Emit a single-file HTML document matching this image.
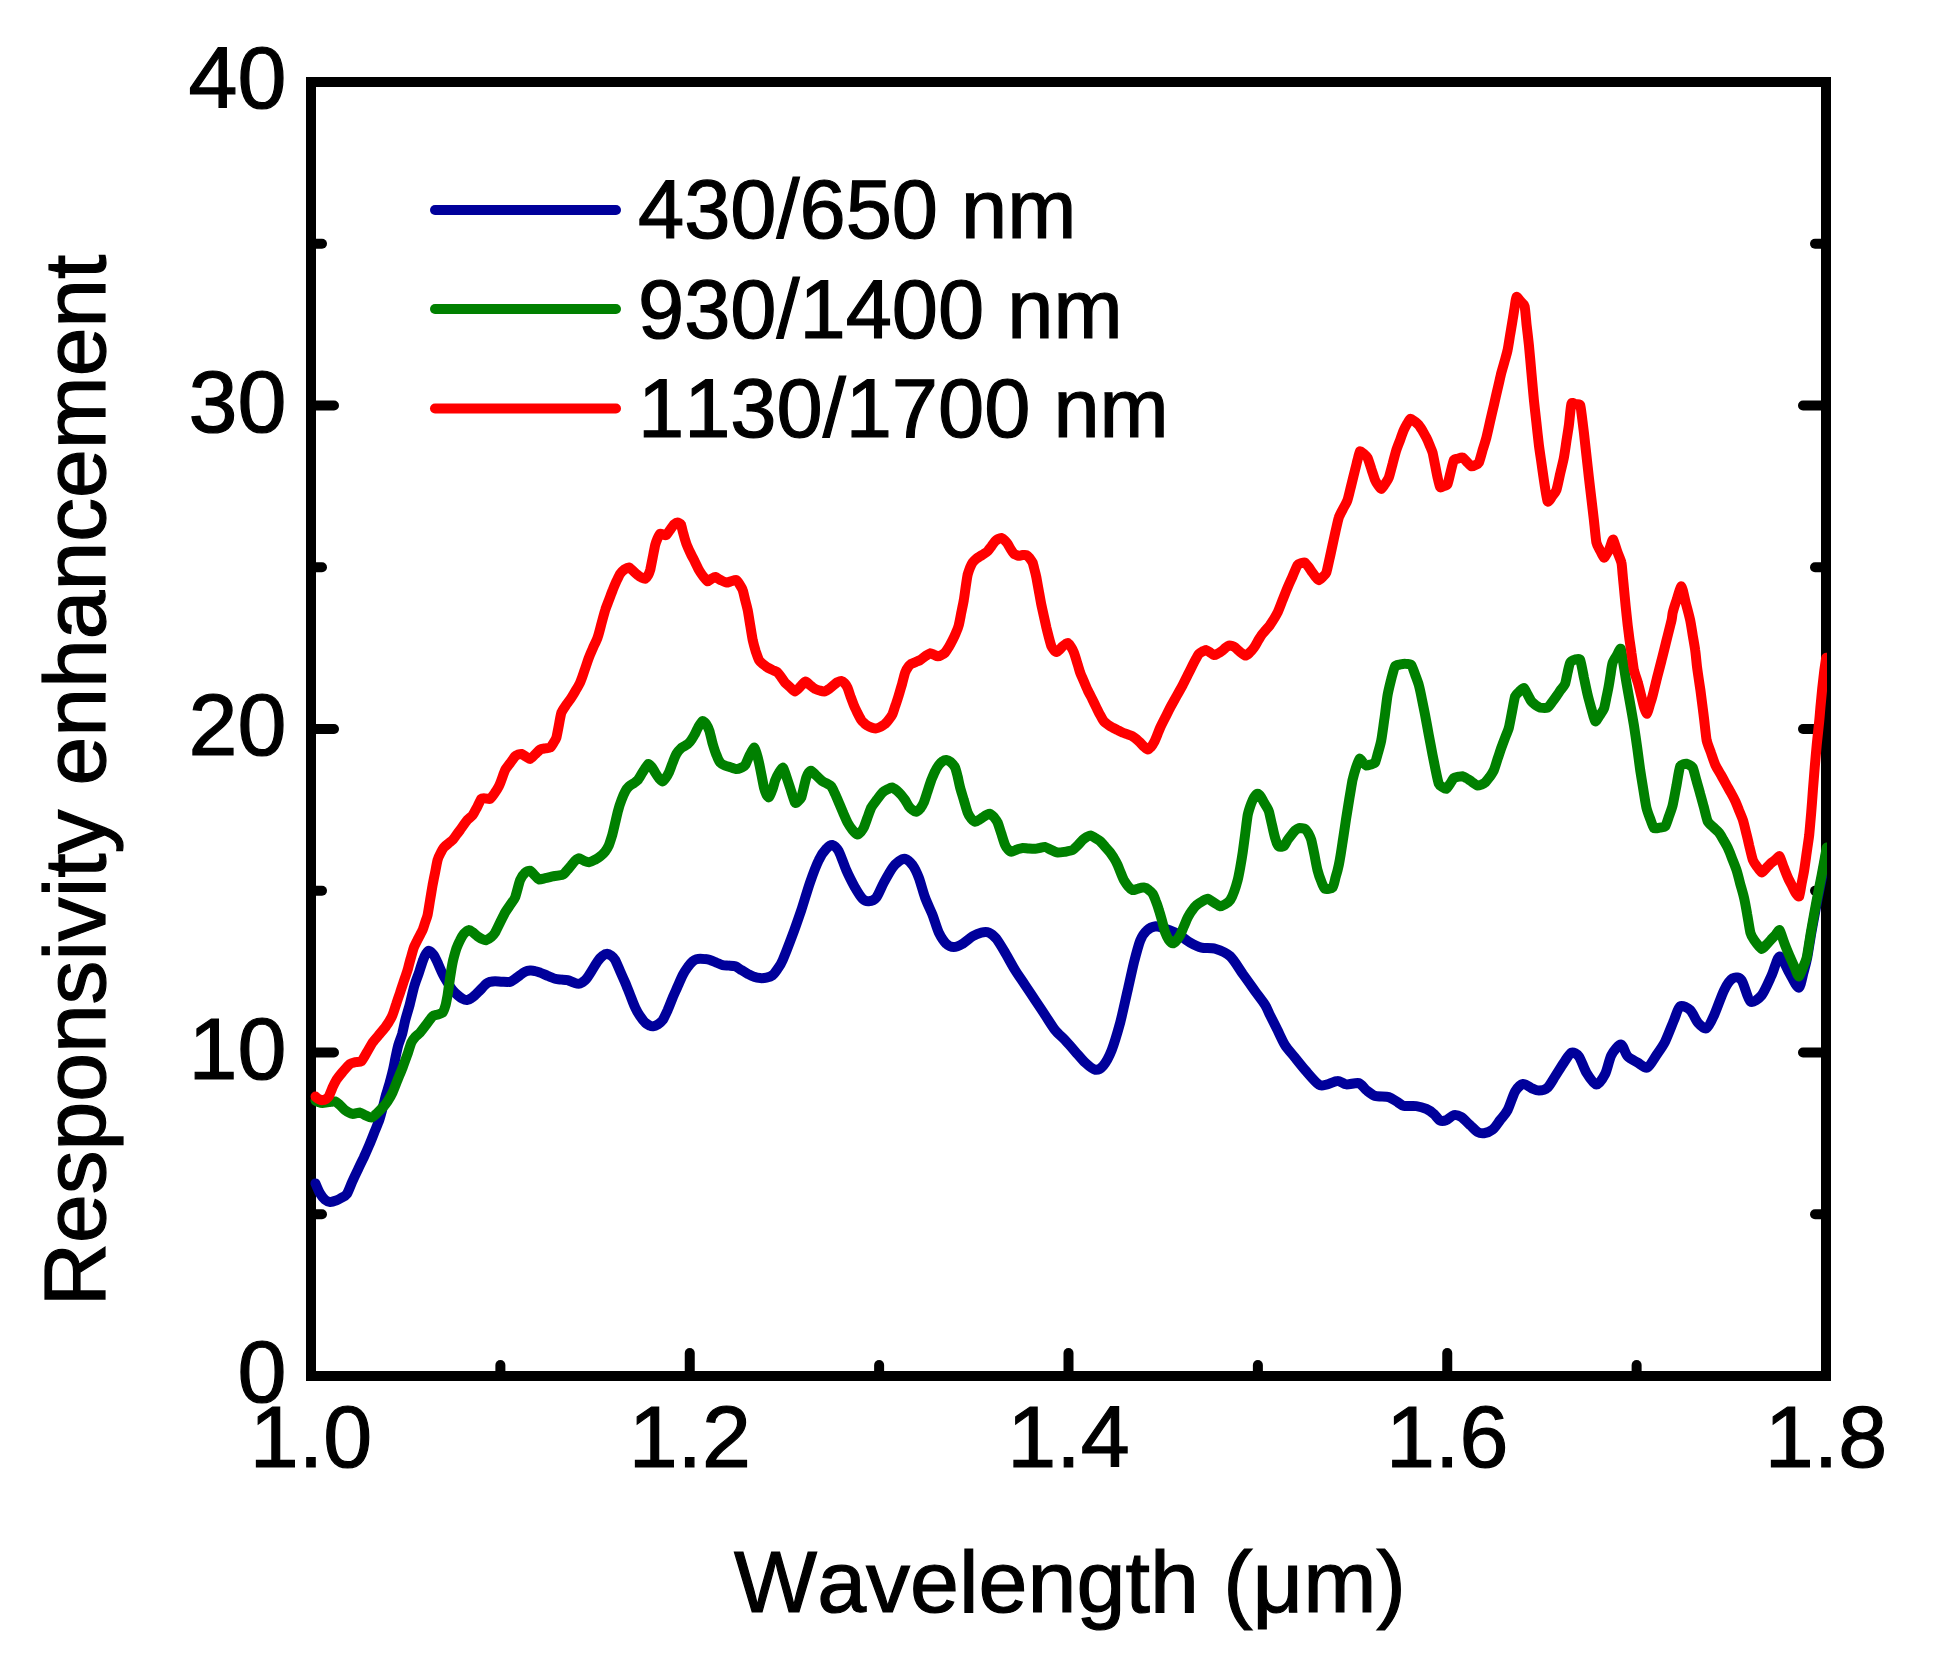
<!DOCTYPE html>
<html><head><meta charset="utf-8"><title>Responsivity enhancement</title>
<style>html,body{margin:0;padding:0;background:#fff}svg{display:block}text{font-kerning:none;stroke:#000;stroke-width:1.2px;font-family:"Liberation Sans",sans-serif;fill:#000}</style></head><body>
<svg width="1939" height="1666" viewBox="0 0 1939 1666">
<rect width="1939" height="1666" fill="#fff"/>
<defs><clipPath id="c"><rect x="310" y="77" width="1517" height="1304"/></clipPath></defs>
<g stroke="#000" stroke-width="10" stroke-linecap="round" fill="none">
<path d="M316,1214.25 H322"/>
<path d="M1821,1214.25 H1815"/>
<path d="M316,1052.50 H334"/>
<path d="M1821,1052.50 H1803"/>
<path d="M316,890.75 H322"/>
<path d="M1821,890.75 H1815"/>
<path d="M316,729.00 H334"/>
<path d="M1821,729.00 H1803"/>
<path d="M316,567.25 H322"/>
<path d="M1821,567.25 H1815"/>
<path d="M316,405.50 H334"/>
<path d="M1821,405.50 H1803"/>
<path d="M316,243.75 H322"/>
<path d="M1821,243.75 H1815"/>
<path d="M500.38,1371 V1365"/>
<path d="M689.75,1371 V1353"/>
<path d="M879.12,1371 V1365"/>
<path d="M1068.50,1371 V1353"/>
<path d="M1257.88,1371 V1365"/>
<path d="M1447.25,1371 V1353"/>
<path d="M1636.62,1371 V1365"/>
</g>
<rect x="311" y="82" width="1515" height="1294" fill="none" stroke="#000" stroke-width="10" stroke-linejoin="miter"/>
<g clip-path="url(#c)" fill="none" stroke-width="10" stroke-linejoin="round" stroke-linecap="round">
<path stroke="#00009b" d="M315.5,1183.4C316.1,1184.8 318.7,1191.3 320.0,1193.4C321.3,1195.6 323.7,1198.6 325.0,1199.7C326.3,1200.8 328.5,1201.8 330.0,1201.9C331.5,1202.0 334.8,1201.0 336.3,1200.4C337.8,1199.9 339.9,1198.8 341.3,1197.9C342.7,1197.1 345.3,1196.3 346.8,1194.2C348.2,1192.1 350.6,1185.4 352.0,1182.2C353.5,1178.9 356.2,1173.2 357.8,1169.9C359.3,1166.6 362.2,1160.7 363.8,1157.4C365.3,1154.1 367.9,1148.2 369.3,1144.9C370.7,1141.6 373.0,1135.7 374.3,1132.4C375.6,1129.1 378.2,1123.2 379.3,1119.9C380.4,1116.6 381.9,1110.7 382.8,1107.4C383.7,1104.1 385.1,1098.2 386.0,1094.9C387.0,1091.5 388.9,1085.7 389.8,1082.4C390.7,1079.0 392.3,1073.2 393.0,1069.9C393.8,1066.6 394.8,1060.9 395.5,1057.6C396.2,1054.3 397.4,1048.2 398.3,1045.1C399.2,1042.0 401.1,1037.4 402.1,1034.1C403.0,1030.8 404.3,1024.0 405.3,1020.1C406.3,1016.2 408.3,1009.8 409.6,1005.1C410.8,1000.4 413.3,989.3 414.6,985.1C415.8,980.8 417.7,976.4 418.8,973.1C419.9,969.7 422.1,962.7 423.1,960.1C424.0,957.5 425.3,954.8 426.1,953.6C426.9,952.3 428.0,950.6 429.1,950.8C430.1,951.0 432.7,953.5 433.8,955.1C435.0,956.6 436.4,960.1 437.6,962.6C438.7,965.1 441.2,971.2 442.6,973.8C443.9,976.5 446.2,980.4 447.6,982.6C448.9,984.7 451.2,988.4 452.6,990.1C453.9,991.7 456.2,993.9 457.6,995.1C458.9,996.2 461.3,998.2 462.6,998.8C463.8,999.5 465.9,1000.2 467.1,1000.1C468.3,1000.0 470.3,998.8 471.3,998.1C472.4,997.4 473.9,996.1 475.1,995.1C476.3,994.0 478.6,991.6 480.1,990.1C481.6,988.6 485.0,984.9 486.3,983.8C487.7,982.7 488.9,982.2 490.1,981.8C491.3,981.5 493.4,981.3 495.1,981.3C496.8,981.3 500.6,981.8 502.6,981.8C504.6,981.9 508.4,982.2 510.1,981.8C511.8,981.4 513.8,979.7 515.1,978.8C516.4,977.9 518.8,976.0 520.1,975.1C521.4,974.1 523.8,972.4 525.1,971.8C526.4,971.2 528.8,970.7 530.1,970.6C531.4,970.5 533.8,970.8 535.1,971.1C536.5,971.3 538.5,971.9 540.1,972.6C541.8,973.2 545.6,975.0 547.6,975.8C549.6,976.7 553.3,978.3 555.1,978.8C557.0,979.3 559.7,979.4 561.4,979.6C563.0,979.7 566.0,979.7 567.6,980.1C569.3,980.5 572.4,982.1 573.9,982.6C575.4,983.1 577.7,983.9 578.9,983.8C580.1,983.8 581.6,982.7 582.6,982.1C583.6,981.4 585.2,980.3 586.4,978.8C587.6,977.4 589.9,973.7 591.4,971.3C592.9,969.0 596.1,963.4 597.6,961.3C599.1,959.2 601.4,956.8 602.7,955.8C603.9,954.8 606.0,953.8 607.2,953.8C608.3,953.8 610.3,955.0 611.4,955.8C612.5,956.6 614.0,958.0 615.2,960.1C616.3,962.1 618.8,968.3 620.2,971.3C621.5,974.3 623.8,979.4 625.2,982.6C626.5,985.7 628.8,991.7 630.2,995.1C631.5,998.4 633.8,1004.8 635.2,1007.6C636.5,1010.4 638.8,1014.3 640.2,1016.3C641.5,1018.3 643.9,1021.4 645.2,1022.6C646.4,1023.8 648.6,1025.1 649.7,1025.6C650.7,1026.1 652.1,1026.5 653.2,1026.3C654.2,1026.2 656.4,1025.4 657.7,1024.6C658.9,1023.8 661.3,1022.0 662.7,1020.1C664.0,1018.2 666.3,1013.1 667.7,1010.1C669.0,1007.1 671.4,1000.8 672.7,997.6C674.0,994.4 676.4,989.3 677.7,986.3C679.0,983.3 681.4,977.6 682.7,975.1C684.0,972.5 686.4,968.9 687.7,967.1C689.0,965.2 691.5,962.3 692.7,961.3C693.9,960.3 695.4,959.6 696.4,959.3C697.4,959.0 699.0,958.8 700.2,958.8C701.4,958.8 703.9,958.9 705.2,959.1C706.5,959.2 708.7,959.6 710.2,960.1C711.7,960.5 714.8,961.9 716.5,962.6C718.1,963.2 721.0,964.7 722.7,965.1C724.4,965.5 727.3,965.4 729.0,965.6C730.6,965.7 733.6,965.7 735.2,966.3C736.9,966.9 739.8,969.1 741.5,970.1C743.1,971.1 746.1,972.9 747.7,973.8C749.4,974.7 752.3,976.3 754.0,976.8C755.6,977.4 758.6,978.0 760.2,978.1C761.9,978.2 764.8,978.0 766.5,977.6C768.2,977.2 771.2,976.2 772.7,975.1C774.2,973.9 776.4,970.8 777.7,968.8C779.1,966.8 780.8,964.6 782.7,960.1C784.7,955.6 790.0,941.8 792.5,935.1C795.0,928.4 798.9,917.1 801.3,910.1C803.6,903.1 807.7,889.2 810.0,882.6C812.3,875.9 816.6,864.6 818.8,860.1C820.9,855.5 824.4,850.8 826.3,848.8C828.1,846.8 830.9,844.7 832.5,845.0C834.2,845.4 836.9,848.0 838.8,851.3C840.6,854.6 844.1,865.2 846.3,870.1C848.4,874.9 852.9,883.7 855.0,887.6C857.2,891.4 860.7,897.0 862.5,898.8C864.4,900.7 867.0,901.5 868.8,901.3C870.6,901.2 874.3,900.1 876.3,897.6C878.3,895.1 881.6,886.6 883.8,882.6C886.0,878.6 890.6,870.4 892.6,867.6C894.6,864.7 897.1,862.5 898.8,861.3C900.5,860.1 903.2,858.3 905.1,858.8C906.9,859.3 910.7,862.6 912.6,865.1C914.4,867.6 917.1,873.2 918.8,877.6C920.5,881.9 923.2,892.6 925.1,897.6C926.9,902.6 930.7,910.4 932.6,915.1C934.4,919.7 937.0,928.8 938.8,932.6C940.7,936.4 944.3,941.9 946.3,943.8C948.3,945.8 951.7,947.1 953.8,947.1C956.0,947.1 960.1,945.3 962.6,943.8C965.1,942.4 970.1,937.8 972.6,936.3C975.1,934.8 979.2,933.1 981.3,932.6C983.5,932.1 986.9,931.8 988.9,932.6C990.9,933.4 994.2,936.2 996.4,938.8C998.5,941.5 1002.6,948.4 1005.1,952.6C1007.6,956.8 1012.4,965.8 1015.1,970.1C1017.8,974.4 1022.5,981.1 1025.1,985.1C1027.8,989.1 1032.5,996.1 1035.1,1000.1C1037.8,1004.1 1042.5,1011.1 1045.1,1015.1C1047.8,1019.1 1052.5,1026.8 1055.1,1030.1C1057.8,1033.5 1062.5,1037.3 1065.1,1040.1C1067.8,1043.0 1072.5,1048.4 1075.1,1051.4C1077.8,1054.4 1082.5,1060.2 1085.2,1062.7C1087.8,1065.1 1092.8,1069.3 1095.2,1069.7C1097.6,1070.1 1101.0,1068.3 1103.2,1065.7C1105.4,1063.1 1109.4,1055.9 1111.7,1050.1C1113.9,1044.4 1118.0,1030.6 1120.2,1022.6C1122.3,1014.6 1125.8,998.1 1127.7,990.1C1129.5,982.1 1132.3,969.2 1133.9,962.6C1135.6,956.0 1138.5,944.9 1140.2,940.6C1141.9,936.3 1144.6,932.5 1146.7,930.6C1148.7,928.7 1153.2,926.6 1155.7,926.3C1158.2,926.1 1162.3,927.8 1165.2,928.8C1168.1,929.8 1174.4,932.0 1177.7,933.8C1181.0,935.7 1187.0,940.8 1190.2,942.6C1193.4,944.4 1198.1,946.8 1201.5,947.6C1204.8,948.4 1211.4,947.7 1215.2,948.8C1219.1,950.0 1226.6,953.0 1230.2,956.3C1233.9,959.7 1239.4,969.2 1242.7,973.9C1246.1,978.5 1252.2,987.2 1255.2,991.4C1258.2,995.5 1263.3,1002.0 1265.2,1005.1C1267.2,1008.3 1268.4,1011.8 1270.0,1015.1C1271.6,1018.4 1275.5,1026.1 1277.5,1030.1C1279.5,1034.1 1282.7,1041.4 1285.0,1045.1C1287.3,1048.8 1292.2,1054.1 1295.0,1057.6C1297.8,1061.1 1303.1,1067.8 1306.3,1071.4C1309.4,1075.0 1316.1,1082.9 1318.8,1084.6C1321.4,1086.4 1323.8,1085.1 1326.3,1084.6C1328.8,1084.1 1334.9,1080.9 1337.5,1080.9C1340.2,1080.8 1343.5,1084.1 1346.3,1084.4C1349.1,1084.7 1356.1,1082.4 1358.8,1083.1C1361.5,1083.9 1364.1,1088.4 1366.3,1090.1C1368.5,1091.8 1372.1,1094.9 1375.1,1095.9C1378.1,1096.8 1385.8,1096.3 1388.8,1097.1C1391.8,1098.0 1395.6,1101.0 1397.6,1102.1C1399.6,1103.3 1401.3,1105.4 1403.8,1105.9C1406.3,1106.4 1413.3,1105.7 1416.3,1106.1C1419.3,1106.5 1424.0,1107.9 1426.3,1108.9C1428.7,1109.9 1432.0,1112.3 1433.8,1113.9C1435.7,1115.5 1438.4,1119.8 1440.1,1120.6C1441.8,1121.5 1444.5,1120.9 1446.3,1120.1C1448.2,1119.4 1451.8,1115.5 1453.8,1115.1C1455.8,1114.7 1459.2,1115.8 1461.3,1117.1C1463.5,1118.5 1467.9,1123.2 1470.1,1125.1C1472.3,1127.1 1475.8,1130.8 1477.6,1131.9C1479.4,1133.0 1481.9,1133.5 1483.9,1133.2C1485.9,1132.9 1490.4,1131.4 1492.6,1129.6C1494.8,1127.9 1498.1,1122.7 1500.1,1120.1C1502.1,1117.5 1505.6,1114.0 1507.6,1110.1C1509.6,1106.3 1513.1,1094.9 1515.1,1091.4C1517.2,1087.9 1521.0,1084.3 1523.1,1083.9C1525.3,1083.4 1529.3,1087.2 1531.4,1088.1C1533.5,1089.0 1536.7,1090.7 1538.9,1090.6C1541.1,1090.6 1545.5,1089.5 1547.6,1087.6C1549.8,1085.7 1553.0,1079.7 1555.1,1076.4C1557.3,1073.0 1561.7,1065.8 1563.9,1062.6C1566.1,1059.4 1569.4,1053.4 1571.4,1052.6C1573.4,1051.8 1576.9,1053.7 1578.9,1056.4C1580.9,1059.0 1584.1,1068.9 1586.4,1072.6C1588.7,1076.4 1593.9,1084.5 1596.4,1084.6C1598.9,1084.8 1603.2,1077.8 1605.2,1073.9C1607.2,1069.9 1609.3,1059.0 1611.4,1055.1C1613.5,1051.2 1618.8,1044.4 1620.9,1044.6C1623.1,1044.8 1625.4,1054.0 1627.7,1056.4C1629.9,1058.8 1635.1,1061.1 1637.7,1062.6C1640.3,1064.1 1644.7,1068.6 1647.2,1067.6C1649.7,1066.6 1654.0,1058.6 1656.4,1055.1C1658.8,1051.6 1662.9,1046.0 1665.2,1041.4C1667.5,1036.7 1672.0,1024.8 1674.0,1020.1C1676.0,1015.4 1678.0,1007.7 1680.2,1006.3C1682.4,1005.0 1688.0,1008.0 1690.4,1010.2C1692.7,1012.4 1695.7,1020.3 1697.9,1022.7C1700.0,1025.1 1704.5,1029.2 1706.6,1028.2C1708.8,1027.2 1711.8,1020.3 1714.1,1015.2C1716.5,1010.1 1721.6,995.1 1724.1,990.2C1726.6,985.2 1730.6,979.5 1732.9,978.2C1735.2,976.8 1739.3,977.1 1741.6,980.2C1744.0,983.3 1747.7,999.4 1750.4,1001.4C1753.1,1003.4 1758.8,998.7 1761.7,995.2C1764.5,991.7 1769.3,980.3 1771.7,975.2C1774.1,970.0 1777.3,956.8 1779.7,956.4C1782.0,956.1 1786.6,968.5 1789.2,972.7C1791.7,976.8 1796.7,987.8 1798.7,987.7C1800.6,987.6 1802.5,975.9 1803.7,971.9C1804.8,967.9 1806.4,961.6 1807.2,957.7C1808.0,953.8 1809.0,946.7 1809.7,942.7C1810.3,938.7 1811.1,933.4 1812.2,927.7C1813.2,922.0 1816.1,906.9 1817.4,899.9C1818.8,892.9 1821.2,881.2 1822.4,874.9C1823.6,868.5 1825.9,855.2 1826.4,852.1"/>
<path stroke="#008000" d="M315.5,1100.6C315.8,1100.8 318.1,1101.9 318.8,1102.1C319.5,1102.4 321.5,1103.1 322.5,1103.1C323.5,1103.1 327.5,1102.3 328.8,1102.1C330.0,1102.0 333.9,1101.1 335.0,1101.4C336.1,1101.7 339.0,1104.3 340.0,1105.1C341.0,1106.0 343.8,1109.3 345.0,1110.1C346.3,1111.0 351.0,1113.6 352.5,1113.9C354.0,1114.1 358.8,1112.5 360.0,1112.6C361.3,1112.8 363.9,1114.6 365.0,1115.1C366.2,1115.6 370.2,1117.8 371.3,1117.6C372.4,1117.5 375.2,1114.9 376.3,1113.9C377.4,1112.9 381.4,1108.9 382.5,1107.6C383.7,1106.4 386.5,1102.9 387.5,1101.4C388.5,1099.9 391.5,1094.8 392.5,1092.6C393.5,1090.5 396.5,1082.6 397.5,1080.1C398.5,1077.6 401.6,1070.2 402.6,1067.6C403.6,1065.0 406.7,1056.4 407.6,1053.9C408.4,1051.4 410.6,1044.3 411.3,1042.6C412.1,1040.9 414.2,1038.1 415.1,1037.1C415.9,1036.1 418.9,1033.9 420.1,1032.6C421.2,1031.4 425.1,1026.2 426.3,1024.6C427.6,1023.0 431.4,1017.3 432.6,1016.3C433.7,1015.3 436.6,1015.0 437.6,1014.6C438.6,1014.2 441.8,1013.5 442.6,1012.6C443.4,1011.6 445.1,1006.8 445.6,1005.1C446.1,1003.3 447.1,997.8 447.6,995.1C448.0,992.3 449.6,980.8 450.1,977.6C450.6,974.3 452.0,965.4 452.6,962.6C453.2,959.7 455.6,951.1 456.3,948.8C457.1,946.6 459.3,941.6 460.1,940.1C460.8,938.6 463.0,934.8 463.8,933.8C464.7,932.8 468.0,930.2 468.8,930.1C469.7,929.9 471.7,931.4 472.6,932.1C473.5,932.7 476.6,935.6 477.6,936.3C478.6,937.0 481.7,938.9 482.6,939.3C483.5,939.7 485.5,940.3 486.3,940.1C487.2,939.8 490.5,937.8 491.3,937.1C492.2,936.3 494.2,934.0 495.1,932.6C496.0,931.1 499.1,924.5 500.1,922.5C501.1,920.5 504.1,914.3 505.1,912.5C506.1,910.8 509.1,906.5 510.1,905.0C511.1,903.5 514.1,900.0 515.1,897.5C516.1,895.1 519.1,882.7 520.1,880.2C521.1,877.7 524.1,873.6 525.1,872.7C526.1,871.7 529.2,870.4 530.1,870.7C531.1,870.9 533.7,874.3 534.6,875.2C535.5,876.1 537.8,879.1 538.9,879.4C539.9,879.7 543.7,878.5 545.1,878.2C546.5,877.9 550.9,876.8 552.6,876.4C554.4,876.1 561.2,875.3 562.6,874.7C564.1,874.1 566.3,871.1 567.1,870.2C568.0,869.2 570.6,866.1 571.4,865.2C572.2,864.2 574.4,861.4 575.1,860.7C575.9,860.0 578.0,858.2 578.9,858.2C579.8,858.2 582.9,860.3 583.9,860.7C584.9,861.1 587.8,862.3 588.9,862.2C590.0,862.1 594.0,860.3 595.1,859.7C596.3,859.1 599.1,857.3 600.2,856.4C601.2,855.6 604.3,852.6 605.2,851.4C606.0,850.3 608.2,846.8 608.9,845.2C609.6,843.6 611.5,837.4 612.2,835.2C612.8,832.9 614.6,825.2 615.2,822.7C615.8,820.2 617.5,812.4 618.2,810.2C618.8,807.9 620.7,802.0 621.4,800.2C622.1,798.3 624.4,792.8 625.2,791.4C625.9,790.0 628.0,787.2 628.9,786.4C629.8,785.6 633.0,783.8 633.9,783.2C634.8,782.5 636.7,781.3 637.7,780.2C638.6,779.0 642.1,773.0 643.2,771.4C644.2,769.8 647.5,764.3 648.4,763.9C649.3,763.5 651.5,766.8 652.2,767.6C652.9,768.5 654.5,771.6 655.2,772.6C655.9,773.7 658.2,777.3 658.9,778.1C659.7,779.0 662.0,781.4 662.7,781.4C663.4,781.4 665.1,779.0 665.7,778.1C666.3,777.3 668.2,774.2 668.9,772.6C669.6,771.1 671.9,764.5 672.7,762.6C673.4,760.8 675.6,755.4 676.4,753.9C677.3,752.4 680.3,748.9 681.4,747.9C682.6,746.9 686.7,744.9 687.7,744.1C688.7,743.3 690.7,741.0 691.4,739.9C692.2,738.8 694.4,734.8 695.2,733.4C695.9,732.0 698.2,727.3 698.9,726.1C699.7,724.9 701.7,721.3 702.5,721.1C703.2,720.9 705.5,723.1 706.2,724.1C706.9,725.1 708.8,729.1 709.5,731.1C710.1,733.1 712.0,741.5 712.7,743.9C713.4,746.3 715.7,753.3 716.5,755.1C717.2,757.0 719.3,761.6 720.2,762.6C721.1,763.7 724.2,765.2 725.2,765.6C726.2,766.1 729.1,766.8 730.2,767.1C731.3,767.5 735.3,769.1 736.5,769.1C737.6,769.2 740.6,768.0 741.5,767.6C742.3,767.2 744.4,766.4 745.2,765.1C746.0,763.9 748.8,756.9 749.7,755.1C750.6,753.4 753.3,747.8 754.0,747.6C754.7,747.4 756.0,751.6 756.5,753.1C757.0,754.6 758.5,760.4 759.0,762.6C759.5,764.8 761.0,772.6 761.5,775.1C762.0,777.6 763.5,785.7 764.0,787.7C764.5,789.6 766.0,793.7 766.5,794.7C767.0,795.6 768.4,797.6 769.0,797.2C769.6,796.7 771.6,791.9 772.2,790.2C772.9,788.5 774.6,781.9 775.2,780.2C775.9,778.4 778.2,773.9 779.0,772.6C779.7,771.4 782.1,767.7 782.7,767.6C783.3,767.6 784.3,770.5 785.0,772.5C785.7,774.5 789.0,784.5 790.0,787.5C791.0,790.5 794.2,801.1 795.0,802.5C795.8,803.9 797.4,801.8 798.0,801.3C798.6,800.8 800.7,798.9 801.3,797.5C801.8,796.1 803.3,789.5 803.8,787.5C804.3,785.5 805.8,779.0 806.3,777.5C806.8,776.0 808.3,773.2 808.8,772.5C809.3,771.8 810.5,770.5 811.3,770.8C812.0,771.1 815.1,774.5 816.3,775.5C817.4,776.6 821.4,780.4 822.5,781.3C823.6,782.1 826.6,783.3 827.5,783.8C828.4,784.3 830.5,785.3 831.3,786.3C832.0,787.3 834.3,792.1 835.0,793.8C835.8,795.4 838.0,800.6 838.8,802.5C839.6,804.4 842.2,810.5 843.0,812.5C843.9,814.5 846.6,820.8 847.5,822.5C848.5,824.3 851.5,828.8 852.5,830.0C853.5,831.2 856.7,834.3 857.5,834.5C858.4,834.7 860.2,832.7 860.8,832.0C861.4,831.3 863.1,829.0 863.8,827.5C864.5,826.1 866.8,819.5 867.5,817.5C868.3,815.5 870.3,809.3 871.3,807.5C872.2,805.7 875.9,801.0 877.0,799.5C878.2,798.0 881.5,793.5 882.5,792.5C883.6,791.5 886.6,789.8 887.6,789.3C888.5,788.8 891.1,787.4 892.1,787.5C893.0,787.6 895.9,789.8 896.8,790.5C897.7,791.3 900.5,794.1 901.3,795.0C902.1,796.0 904.3,798.9 905.1,800.0C905.8,801.1 908.1,805.3 908.8,806.3C909.6,807.3 911.8,809.5 912.6,810.0C913.3,810.6 915.6,811.9 916.3,811.8C917.1,811.7 919.3,809.7 920.1,808.8C920.8,807.8 923.1,804.3 923.8,802.5C924.6,800.8 926.8,793.5 927.6,791.3C928.3,789.0 930.6,782.0 931.3,780.0C932.1,778.0 934.3,772.8 935.1,771.3C935.8,769.8 938.1,766.0 938.8,765.0C939.6,764.0 941.8,761.8 942.6,761.3C943.3,760.8 945.5,759.9 946.3,760.0C947.1,760.1 949.7,761.3 950.6,762.0C951.5,762.8 954.4,766.1 955.1,767.5C955.8,768.9 957.1,774.3 957.6,776.3C958.1,778.3 959.5,785.1 960.1,787.5C960.7,789.9 963.1,797.5 963.8,800.0C964.6,802.5 966.8,810.7 967.6,812.5C968.3,814.4 970.6,817.9 971.3,818.8C972.1,819.7 974.3,821.7 975.1,821.8C975.8,821.9 978.1,820.5 978.8,820.0C979.6,819.6 981.8,818.0 982.6,817.5C983.3,817.0 985.6,815.4 986.4,815.0C987.1,814.7 989.4,813.6 990.1,813.8C990.9,814.0 993.1,816.2 993.9,817.0C994.6,817.9 996.9,820.9 997.6,822.5C998.4,824.2 1000.6,831.5 1001.4,833.8C1002.1,836.0 1004.4,843.5 1005.1,845.0C1005.8,846.6 1007.5,848.9 1008.1,849.5C1008.7,850.2 1010.5,851.8 1011.4,851.8C1012.3,851.8 1016.0,849.9 1017.1,849.5C1018.2,849.2 1021.4,848.1 1022.6,848.0C1023.8,847.9 1027.6,848.5 1028.9,848.5C1030.1,848.6 1034.0,848.9 1035.1,848.8C1036.3,848.7 1039.1,848.0 1040.1,847.8C1041.1,847.6 1044.0,846.8 1045.1,847.0C1046.3,847.3 1050.1,849.5 1051.4,850.0C1052.6,850.6 1056.3,852.4 1057.6,852.5C1059.0,852.7 1063.6,852.0 1065.1,851.8C1066.6,851.5 1071.4,850.7 1072.6,850.0C1073.9,849.4 1076.6,846.5 1077.6,845.5C1078.6,844.5 1081.7,840.9 1082.6,840.0C1083.5,839.2 1085.9,837.5 1086.7,837.0C1087.5,836.6 1089.8,835.4 1090.7,835.5C1091.5,835.6 1094.2,837.5 1095.2,838.0C1096.1,838.6 1099.2,840.4 1100.2,841.3C1101.2,842.2 1104.2,845.7 1105.2,846.8C1106.2,847.9 1109.3,851.4 1110.2,852.5C1111.0,853.7 1113.2,856.8 1113.9,858.0C1114.7,859.3 1117.0,863.6 1117.7,865.1C1118.3,866.5 1120.0,871.1 1120.7,872.6C1121.3,874.1 1123.2,878.7 1123.9,880.1C1124.7,881.4 1127.3,885.3 1128.2,886.3C1129.0,887.3 1131.7,889.8 1132.7,890.1C1133.7,890.3 1137.1,888.8 1138.2,888.6C1139.3,888.3 1142.9,887.4 1143.9,887.6C1145.0,887.7 1148.1,889.4 1148.9,890.1C1149.8,890.7 1152.0,892.7 1152.7,893.8C1153.4,894.9 1155.3,899.7 1155.9,901.3C1156.6,902.9 1158.3,908.1 1158.9,910.1C1159.6,912.1 1161.6,919.1 1162.2,921.3C1162.8,923.6 1164.5,930.7 1165.2,932.6C1165.9,934.5 1168.2,939.0 1168.9,940.1C1169.7,941.2 1171.9,943.3 1172.7,943.3C1173.4,943.4 1175.7,941.4 1176.4,940.6C1177.2,939.8 1179.4,936.5 1180.2,935.1C1180.9,933.7 1183.2,928.1 1183.9,926.3C1184.7,924.6 1186.9,919.2 1187.7,917.6C1188.5,916.0 1191.1,911.8 1192.0,910.6C1192.8,909.3 1195.4,906.0 1196.5,905.1C1197.5,904.1 1201.1,901.9 1202.2,901.3C1203.3,900.7 1206.5,898.7 1207.7,898.8C1208.9,898.9 1212.7,901.8 1214.0,902.6C1215.2,903.3 1219.1,906.1 1220.2,906.3C1221.3,906.5 1224.2,904.9 1225.2,904.3C1226.2,903.7 1229.3,901.4 1230.2,900.1C1231.1,898.8 1233.5,893.3 1234.2,891.3C1235.0,889.3 1237.1,882.4 1237.7,880.1C1238.3,877.7 1239.7,870.3 1240.2,867.6C1240.7,864.8 1242.2,855.9 1242.7,852.5C1243.2,849.2 1244.7,837.5 1245.2,833.8C1245.7,830.0 1247.2,817.8 1247.7,815.0C1248.2,812.3 1249.7,807.8 1250.2,806.3C1250.7,804.8 1252.2,801.1 1252.7,800.0C1253.2,799.0 1254.7,796.4 1255.2,795.8C1255.7,795.1 1257.2,793.6 1257.7,793.8C1258.3,793.9 1260.4,796.1 1261.0,797.0C1261.6,797.9 1263.4,801.5 1264.0,802.5C1264.6,803.6 1266.5,806.6 1267.0,807.5C1267.5,808.4 1268.5,809.9 1269.0,811.8C1269.5,813.6 1271.6,823.3 1272.3,826.1C1272.9,828.9 1275.1,838.1 1275.8,840.1C1276.4,842.2 1278.2,846.0 1279.0,846.6C1279.8,847.2 1283.2,846.5 1284.0,845.9C1284.9,845.2 1286.8,841.2 1287.5,840.1C1288.2,839.0 1290.5,836.1 1291.3,835.1C1292.0,834.2 1294.3,831.3 1295.0,830.6C1295.8,829.9 1297.8,828.3 1298.8,828.1C1299.8,827.9 1304.1,828.4 1305.0,828.9C1306.0,829.4 1307.6,832.0 1308.3,833.1C1308.9,834.2 1310.6,837.9 1311.3,840.1C1311.9,842.3 1313.9,852.1 1314.5,855.1C1315.1,858.1 1316.8,867.5 1317.5,870.1C1318.2,872.8 1320.5,879.5 1321.3,881.4C1322.0,883.3 1323.9,888.3 1325.0,888.9C1326.2,889.5 1331.5,888.8 1332.5,887.6C1333.6,886.5 1334.9,879.9 1335.5,877.6C1336.2,875.4 1338.1,868.6 1338.8,865.1C1339.5,861.6 1341.8,847.4 1342.5,842.6C1343.3,837.9 1345.6,822.1 1346.3,817.6C1347.0,813.1 1348.9,801.4 1349.5,797.6C1350.2,793.8 1351.9,783.1 1352.5,780.1C1353.2,777.1 1355.3,769.7 1356.0,767.6C1356.7,765.5 1358.8,759.3 1359.5,758.8C1360.2,758.3 1362.4,761.9 1363.0,762.6C1363.7,763.3 1365.5,765.4 1366.3,765.6C1367.0,765.8 1369.7,764.9 1370.6,764.6C1371.4,764.3 1374.3,763.8 1375.1,762.6C1375.8,761.4 1377.4,754.8 1378.1,752.6C1378.7,750.3 1380.7,743.6 1381.3,740.1C1382.0,736.6 1383.9,722.1 1384.6,717.6C1385.2,713.1 1386.9,698.9 1387.6,695.0C1388.2,691.2 1390.6,681.7 1391.3,678.8C1392.1,675.9 1394.2,667.7 1395.1,666.3C1395.9,664.9 1399.1,664.8 1400.1,664.5C1401.1,664.3 1403.9,663.7 1405.1,663.8C1406.2,663.8 1410.3,664.0 1411.3,665.0C1412.3,666.1 1414.3,672.5 1415.1,674.5C1415.8,676.5 1418.1,682.5 1418.8,685.0C1419.5,687.6 1421.5,697.0 1422.1,700.1C1422.7,703.1 1424.4,711.6 1425.1,715.1C1425.8,718.6 1428.1,731.1 1428.8,735.1C1429.6,739.1 1431.9,751.6 1432.6,755.1C1433.3,758.6 1435.0,767.2 1435.6,770.1C1436.2,773.0 1438.1,782.1 1438.8,783.8C1439.5,785.5 1441.8,786.6 1442.6,787.1C1443.3,787.6 1445.6,789.2 1446.3,788.8C1447.1,788.5 1449.3,784.9 1450.1,783.8C1450.8,782.8 1453.0,778.8 1453.8,778.1C1454.6,777.4 1457.2,777.0 1458.1,776.8C1459.0,776.7 1461.8,776.2 1462.6,776.3C1463.4,776.5 1465.6,777.7 1466.3,778.1C1467.1,778.5 1469.3,780.1 1470.1,780.6C1470.9,781.1 1473.1,782.8 1473.9,783.3C1474.6,783.8 1476.9,785.5 1477.6,785.6C1478.4,785.7 1480.6,784.9 1481.4,784.6C1482.1,784.3 1484.3,783.3 1485.1,782.6C1485.9,781.8 1488.7,778.3 1489.6,777.1C1490.5,775.8 1493.1,771.9 1493.9,770.1C1494.7,768.3 1496.9,761.1 1497.6,758.8C1498.4,756.6 1500.6,749.7 1501.4,747.6C1502.1,745.4 1504.4,739.6 1505.1,737.6C1505.9,735.6 1508.2,730.2 1508.9,727.6C1509.6,724.9 1511.5,714.4 1512.1,711.3C1512.7,708.2 1514.4,698.3 1515.1,696.3C1515.9,694.3 1518.7,692.1 1519.6,691.3C1520.5,690.5 1523.1,687.7 1523.9,688.0C1524.7,688.4 1526.9,693.2 1527.6,694.5C1528.4,695.9 1530.6,700.3 1531.4,701.3C1532.2,702.4 1534.8,704.4 1535.6,705.1C1536.5,705.7 1538.9,707.3 1540.1,707.6C1541.3,707.8 1546.4,708.1 1547.6,707.6C1548.8,707.0 1551.3,703.2 1552.1,702.1C1553.0,700.9 1555.5,697.5 1556.4,696.3C1557.2,695.1 1559.8,691.3 1560.6,690.0C1561.5,688.8 1564.4,685.5 1565.1,683.8C1565.8,682.0 1567.1,674.7 1567.6,672.5C1568.1,670.4 1569.4,663.8 1570.2,662.5C1570.9,661.2 1574.2,659.8 1575.2,659.5C1576.2,659.3 1579.3,658.2 1580.2,660.0C1581.0,661.8 1583.2,674.0 1583.9,677.5C1584.7,681.0 1586.9,691.9 1587.7,695.0C1588.4,698.2 1590.7,706.2 1591.4,708.8C1592.2,711.4 1594.3,720.6 1595.2,721.3C1596.0,722.0 1598.8,716.8 1599.7,715.6C1600.5,714.3 1603.2,710.6 1603.9,708.8C1604.6,707.0 1605.9,699.9 1606.4,697.5C1606.9,695.2 1608.5,687.4 1608.9,685.0C1609.3,682.7 1610.3,676.0 1610.7,673.8C1611.0,671.5 1612.1,664.4 1612.7,662.5C1613.3,660.7 1615.8,656.9 1616.7,655.5C1617.5,654.2 1620.2,647.8 1620.9,648.8C1621.6,649.8 1623.1,662.2 1623.7,665.5C1624.2,668.9 1625.8,678.7 1626.4,682.5C1627.1,686.4 1629.4,699.5 1630.2,703.8C1630.9,708.1 1633.2,720.7 1633.9,725.1C1634.6,729.4 1636.6,743.1 1637.2,747.6C1637.8,752.1 1639.6,766.0 1640.2,770.1C1640.8,774.2 1642.6,785.1 1643.2,788.8C1643.8,792.6 1645.7,804.6 1646.4,807.6C1647.1,810.6 1649.4,816.8 1650.2,818.9C1650.9,820.9 1653.0,827.2 1653.9,828.1C1654.9,829.0 1658.6,827.8 1659.7,827.6C1660.8,827.4 1664.3,827.5 1665.2,826.4C1666.1,825.2 1668.2,818.5 1668.9,816.4C1669.7,814.2 1672.0,808.2 1672.7,805.1C1673.5,802.0 1675.7,789.5 1676.5,785.6C1677.2,781.7 1679.2,768.5 1680.2,766.3C1681.2,764.2 1685.2,763.7 1686.5,763.8C1687.7,764.0 1691.7,765.9 1692.7,767.6C1693.7,769.3 1695.7,778.0 1696.5,780.6C1697.2,783.2 1699.5,791.1 1700.2,793.8C1701.0,796.5 1703.2,804.9 1704.0,807.6C1704.7,810.4 1706.8,819.4 1707.7,821.4C1708.6,823.3 1712.1,826.0 1713.2,827.1C1714.3,828.2 1718.0,831.4 1719.0,832.6C1720.0,833.9 1722.4,838.1 1723.2,839.6C1724.1,841.1 1726.8,845.7 1727.7,847.6C1728.6,849.5 1731.4,856.6 1732.2,858.9C1733.1,861.1 1735.7,867.6 1736.5,870.1C1737.3,872.6 1739.5,881.1 1740.2,883.9C1741.0,886.6 1743.3,894.6 1744.0,897.6C1744.7,900.6 1746.5,910.4 1747.1,913.9C1747.8,917.4 1749.7,930.0 1750.4,932.7C1751.1,935.3 1753.0,938.5 1754.2,940.2C1755.3,941.8 1760.4,948.5 1761.7,948.9C1762.9,949.3 1765.7,945.4 1766.7,944.4C1767.7,943.4 1770.8,939.9 1771.7,938.9C1772.6,937.9 1774.9,935.5 1775.7,934.7C1776.5,933.8 1778.8,929.4 1779.7,930.2C1780.5,931.0 1783.2,940.2 1784.2,942.7C1785.1,945.2 1788.2,952.8 1789.2,955.2C1790.2,957.5 1793.2,964.3 1794.2,966.4C1795.1,968.5 1797.8,976.3 1798.7,976.4C1799.5,976.6 1802.1,969.5 1802.9,967.7C1803.7,965.8 1806.1,960.2 1806.7,957.7C1807.3,955.2 1808.7,945.7 1809.2,942.7C1809.7,939.7 1810.9,931.9 1811.7,927.7C1812.4,923.4 1815.7,905.4 1816.7,900.1C1817.7,894.9 1820.7,880.4 1821.7,875.1C1822.7,869.9 1826.2,850.4 1826.7,847.6"/>
<path stroke="#ff0000" d="M315.5,1096.6C315.8,1096.9 318.1,1098.8 318.8,1099.1C319.5,1099.5 321.8,1100.2 322.5,1100.1C323.3,1100.1 325.6,1099.3 326.3,1098.9C326.9,1098.5 328.1,1097.5 328.8,1096.4C329.4,1095.3 331.8,1089.3 332.5,1087.6C333.3,1086.0 335.3,1081.7 336.3,1080.1C337.3,1078.6 341.1,1073.7 342.5,1072.1C343.9,1070.5 348.7,1064.9 350.0,1063.9C351.3,1062.9 354.4,1062.4 355.5,1062.1C356.7,1061.9 360.1,1062.4 361.3,1061.4C362.4,1060.4 365.9,1054.0 367.0,1052.1C368.2,1050.2 371.4,1044.3 372.5,1042.6C373.7,1040.9 377.5,1036.6 378.8,1035.1C380.0,1033.6 384.0,1028.9 385.0,1027.6C386.0,1026.3 388.0,1023.3 388.8,1022.1C389.5,1020.8 391.8,1016.9 392.5,1015.1C393.3,1013.3 395.5,1006.1 396.3,1003.8C397.0,1001.6 399.3,994.8 400.1,992.6C400.8,990.3 403.1,983.6 403.8,981.3C404.6,979.1 406.9,972.3 407.6,970.1C408.2,967.8 409.9,961.1 410.6,958.8C411.2,956.6 413.1,949.6 413.8,947.6C414.6,945.6 417.2,940.6 418.1,938.8C418.9,937.1 421.9,931.7 422.6,930.1C423.3,928.4 424.6,924.0 425.1,922.5C425.6,921.0 427.1,917.3 427.6,915.0C428.1,912.8 429.6,903.0 430.1,900.0C430.6,897.0 432.1,887.8 432.6,885.0C433.1,882.3 434.6,875.0 435.1,872.5C435.6,870.0 437.0,862.0 437.6,860.0C438.1,858.1 439.9,854.3 440.6,853.0C441.2,851.8 443.1,848.4 443.8,847.5C444.6,846.6 447.2,844.5 448.1,843.8C448.9,843.0 451.8,840.9 452.6,840.0C453.4,839.1 455.6,836.0 456.3,835.0C457.1,834.0 459.0,831.5 460.1,830.0C461.2,828.5 465.8,821.7 467.1,820.2C468.3,818.7 471.6,816.5 472.6,815.2C473.6,813.9 476.2,808.8 477.1,807.2C478.0,805.5 480.5,799.8 481.3,798.9C482.2,798.0 484.7,798.4 485.6,798.4C486.5,798.4 489.2,799.4 490.1,798.9C491.0,798.4 493.7,794.4 494.6,793.2C495.5,791.9 498.1,787.9 498.8,786.4C499.6,784.9 501.5,779.8 502.1,778.1C502.7,776.5 504.3,771.6 505.1,770.1C505.9,768.6 509.1,764.5 510.1,763.1C511.1,761.8 514.3,757.2 515.1,756.4C515.9,755.5 517.5,754.9 518.1,754.6C518.7,754.4 520.6,753.7 521.4,753.9C522.1,754.1 524.7,755.9 525.6,756.4C526.5,756.9 529.2,759.1 530.1,758.9C531.1,758.7 534.1,755.3 535.1,754.4C536.1,753.5 539.1,750.2 540.1,749.6C541.1,749.0 544.1,748.6 545.1,748.4C546.1,748.2 549.3,748.2 550.1,747.6C551.0,747.1 552.8,744.1 553.4,743.1C554.0,742.1 555.8,739.4 556.4,737.6C556.9,735.8 558.4,727.6 558.9,725.1C559.4,722.6 560.6,714.7 561.4,712.6C562.1,710.6 565.4,706.1 566.4,704.6C567.4,703.1 570.5,699.0 571.4,697.6C572.3,696.2 574.8,692.1 575.6,690.6C576.5,689.1 579.2,684.7 580.1,682.6C581.0,680.6 583.8,672.6 584.6,670.1C585.5,667.6 588.0,659.8 588.9,657.6C589.7,655.3 592.3,649.6 593.1,647.6C594.0,645.6 596.8,640.0 597.6,637.6C598.5,635.2 600.7,626.6 601.4,623.8C602.2,621.1 604.4,612.4 605.2,610.1C605.9,607.7 608.2,602.1 608.9,600.1C609.7,598.1 611.9,591.9 612.7,590.1C613.4,588.2 615.7,582.9 616.4,581.3C617.2,579.7 619.4,575.0 620.2,573.8C621.0,572.6 623.5,570.2 624.4,569.5C625.3,568.9 628.0,567.4 628.9,567.5C629.8,567.7 632.3,570.3 633.2,571.0C634.0,571.8 636.8,574.4 637.7,575.0C638.5,575.7 640.7,577.2 641.4,577.5C642.2,577.9 644.5,579.0 645.2,578.8C645.8,578.5 647.7,575.9 648.2,575.0C648.7,574.2 649.7,571.8 650.2,570.0C650.6,568.3 652.2,560.0 652.7,557.5C653.2,555.0 654.7,547.0 655.2,545.0C655.7,543.1 657.2,539.2 657.7,538.0C658.2,536.9 659.6,534.1 660.2,533.8C660.7,533.4 662.6,534.4 663.2,534.5C663.8,534.7 665.7,535.6 666.4,535.0C667.2,534.5 669.9,530.1 670.7,529.0C671.4,528.0 673.3,525.2 673.9,524.5C674.6,523.9 676.7,522.5 677.4,522.5C678.1,522.5 680.4,523.5 680.9,524.5C681.5,525.6 682.6,531.1 683.2,533.0C683.7,535.0 685.7,541.8 686.4,543.8C687.1,545.7 689.4,550.8 690.2,552.5C691.0,554.3 693.8,559.5 694.7,561.3C695.6,563.0 698.1,568.5 698.9,570.0C699.8,571.5 702.3,575.2 703.2,576.3C704.1,577.4 706.9,581.1 707.7,581.3C708.5,581.6 710.7,579.2 711.5,578.8C712.2,578.4 714.3,576.9 715.2,577.0C716.1,577.2 719.6,579.5 720.7,580.1C721.8,580.6 725.4,582.5 726.5,582.6C727.5,582.7 730.5,581.3 731.5,581.1C732.5,580.8 735.6,579.7 736.5,580.1C737.3,580.4 739.1,583.6 739.7,584.6C740.3,585.6 742.2,588.5 742.7,590.1C743.3,591.6 744.7,598.1 745.2,600.1C745.7,602.1 747.2,607.6 747.7,610.1C748.2,612.6 749.7,622.1 750.2,625.1C750.7,628.1 752.2,637.5 752.7,640.1C753.3,642.7 755.1,649.3 755.7,651.3C756.4,653.3 758.2,658.8 759.0,660.1C759.7,661.4 762.4,663.6 763.2,664.3C764.1,665.1 766.8,667.0 767.7,667.6C768.7,668.2 771.7,669.6 772.7,670.1C773.7,670.6 776.9,671.8 777.7,672.6C778.6,673.3 780.8,676.6 781.5,677.6C782.2,678.6 784.1,681.7 785.0,682.6C785.8,683.6 789.0,686.2 790.0,687.1C791.0,688.0 794.0,691.4 795.0,691.4C796.1,691.3 799.5,687.4 800.5,686.4C801.6,685.4 804.6,681.5 805.5,681.4C806.5,681.2 809.1,684.4 810.0,685.1C811.0,685.9 814.0,688.3 815.0,688.9C816.0,689.4 819.0,690.4 820.0,690.6C821.0,690.9 824.1,691.6 825.0,691.4C826.0,691.2 828.6,689.2 829.5,688.6C830.4,688.0 833.0,685.8 833.8,685.1C834.6,684.5 836.8,682.5 837.5,682.1C838.3,681.7 840.6,680.8 841.3,680.9C842.0,681.0 843.9,682.4 844.5,683.1C845.2,683.8 846.9,686.3 847.5,687.6C848.1,688.9 849.9,694.6 850.5,696.4C851.2,698.1 853.1,703.4 853.8,705.1C854.5,706.8 856.8,711.6 857.5,713.1C858.3,714.6 860.5,719.0 861.3,720.1C862.0,721.2 864.3,723.2 865.0,723.9C865.8,724.5 868.0,726.0 868.8,726.4C869.5,726.8 871.8,727.7 872.5,727.9C873.3,728.1 875.5,728.5 876.3,728.4C877.1,728.3 879.7,727.3 880.5,726.9C881.4,726.4 884.2,724.6 885.1,723.9C885.9,723.1 888.1,720.6 888.8,719.6C889.6,718.6 891.9,715.3 892.6,713.9C893.2,712.4 894.9,707.0 895.6,705.1C896.2,703.2 898.2,697.2 898.8,695.1C899.5,693.0 901.4,686.1 902.1,683.9C902.7,681.6 904.5,674.3 905.1,672.6C905.7,670.9 907.4,668.0 908.1,667.1C908.7,666.2 910.6,664.3 911.3,663.8C912.1,663.3 914.7,662.5 915.6,662.1C916.4,661.7 919.1,660.7 920.1,660.1C921.0,659.5 924.1,657.0 925.1,656.3C926.1,655.7 929.2,653.5 930.1,653.3C930.9,653.2 933.1,654.3 933.8,654.6C934.6,654.9 936.8,656.3 937.6,656.3C938.3,656.4 940.6,655.5 941.3,655.1C942.1,654.7 944.3,653.4 945.1,652.6C945.8,651.8 948.1,648.3 948.8,647.1C949.6,645.8 951.9,641.5 952.6,640.1C953.3,638.7 955.2,634.6 955.8,633.1C956.5,631.6 958.3,627.1 958.8,625.1C959.4,623.0 960.8,615.1 961.3,612.6C961.8,610.1 963.4,602.6 963.8,600.1C964.3,597.6 965.2,590.1 965.6,587.6C966.0,585.1 967.1,577.0 967.6,575.0C968.0,573.0 969.6,568.8 970.1,567.5C970.6,566.3 972.0,563.4 972.6,562.5C973.2,561.7 975.6,559.4 976.3,558.8C977.1,558.2 979.3,556.8 980.1,556.3C980.8,555.8 983.1,554.5 983.8,554.0C984.6,553.5 986.9,552.1 987.6,551.3C988.4,550.5 990.6,547.3 991.4,546.3C992.1,545.3 994.4,542.0 995.1,541.3C995.8,540.6 997.5,539.4 998.1,539.0C998.7,538.7 1000.7,537.9 1001.4,538.0C1002.0,538.2 1004.0,539.7 1004.6,540.3C1005.2,540.9 1007.0,542.9 1007.6,543.8C1008.2,544.7 1010.0,548.0 1010.6,549.0C1011.2,550.0 1013.3,553.2 1013.9,553.8C1014.4,554.4 1015.9,554.8 1016.4,555.0C1016.9,555.2 1018.2,555.8 1018.9,555.8C1019.5,555.8 1021.9,555.1 1022.6,555.0C1023.4,555.0 1025.7,554.7 1026.4,555.0C1027.1,555.3 1029.0,557.3 1029.6,558.0C1030.2,558.8 1032.1,561.3 1032.6,562.5C1033.1,563.7 1034.2,568.5 1034.6,570.0C1035.0,571.5 1036.0,575.4 1036.4,577.5C1036.8,579.7 1038.4,588.6 1038.9,591.3C1039.4,594.1 1040.9,602.6 1041.4,605.1C1041.9,607.6 1043.4,614.1 1043.9,616.3C1044.4,618.6 1045.9,625.4 1046.4,627.6C1046.9,629.7 1048.4,635.7 1048.9,637.6C1049.4,639.5 1050.9,645.1 1051.4,646.3C1051.9,647.6 1053.4,649.5 1053.9,650.1C1054.4,650.7 1055.8,652.1 1056.4,652.1C1057.0,652.0 1059.0,650.2 1059.6,649.6C1060.3,649.0 1062.1,646.9 1062.6,646.3C1063.2,645.8 1064.8,644.4 1065.4,644.1C1065.9,643.8 1067.6,642.8 1068.1,643.1C1068.7,643.4 1070.6,646.1 1071.1,647.1C1071.7,648.0 1073.3,651.0 1073.9,652.6C1074.5,654.1 1076.5,660.6 1077.1,662.6C1077.8,664.6 1079.5,670.7 1080.1,672.6C1080.8,674.5 1083.1,679.6 1083.9,681.4C1084.6,683.1 1086.8,688.4 1087.7,690.1C1088.5,691.9 1091.3,697.1 1092.2,698.9C1093.0,700.6 1095.6,706.0 1096.4,707.6C1097.2,709.2 1099.4,713.7 1100.2,715.1C1100.9,716.5 1103.1,720.4 1103.9,721.4C1104.7,722.3 1107.3,724.2 1108.2,724.9C1109.0,725.5 1111.7,727.1 1112.7,727.6C1113.6,728.1 1116.7,729.6 1117.7,730.1C1118.7,730.6 1121.7,732.2 1122.7,732.6C1123.7,733.1 1126.7,734.0 1127.7,734.4C1128.7,734.8 1131.8,735.9 1132.7,736.4C1133.5,736.9 1135.7,738.5 1136.4,739.1C1137.2,739.8 1139.4,741.9 1140.2,742.6C1140.9,743.4 1143.2,745.9 1143.9,746.6C1144.7,747.3 1147.0,749.6 1147.7,749.6C1148.4,749.7 1150.3,747.8 1150.9,747.1C1151.6,746.4 1153.3,743.8 1153.9,742.6C1154.6,741.4 1156.6,736.6 1157.2,735.1C1157.8,733.6 1159.4,729.4 1160.2,727.6C1161.0,725.9 1164.2,719.6 1165.2,717.6C1166.2,715.6 1169.1,709.7 1170.2,707.6C1171.3,705.5 1175.2,698.6 1176.4,696.4C1177.7,694.1 1181.6,687.2 1182.7,685.1C1183.8,683.0 1186.7,677.1 1187.7,675.1C1188.7,673.1 1191.9,666.7 1192.7,665.1C1193.5,663.5 1195.3,660.0 1196.0,658.8C1196.6,657.7 1198.3,654.6 1199.0,653.8C1199.6,653.1 1202.0,651.7 1202.7,651.3C1203.5,651.0 1205.7,650.0 1206.5,650.1C1207.2,650.2 1209.5,652.1 1210.2,652.6C1211.0,653.1 1213.2,655.0 1214.0,655.1C1214.7,655.2 1217.0,654.0 1217.7,653.6C1218.5,653.2 1220.7,651.9 1221.5,651.3C1222.2,650.8 1224.5,648.7 1225.2,648.1C1226.0,647.5 1228.3,645.8 1229.0,645.6C1229.7,645.4 1231.6,645.9 1232.2,646.1C1232.8,646.3 1234.4,647.0 1235.2,647.6C1236.0,648.2 1239.2,651.3 1240.2,652.1C1241.2,652.9 1244.3,655.5 1245.2,655.6C1246.2,655.6 1248.9,653.4 1249.7,652.6C1250.6,651.8 1253.2,648.7 1254.0,647.6C1254.8,646.5 1257.0,642.6 1257.7,641.3C1258.5,640.1 1260.7,636.2 1261.5,635.1C1262.3,634.0 1264.9,631.1 1265.7,630.1C1266.6,629.1 1268.8,626.8 1270.0,625.1C1271.2,623.3 1276.3,615.2 1277.5,612.7C1278.8,610.2 1281.5,602.7 1282.5,600.2C1283.5,597.7 1286.5,590.0 1287.5,587.7C1288.5,585.3 1291.5,578.7 1292.5,576.4C1293.5,574.2 1296.6,566.5 1297.5,565.1C1298.4,563.8 1300.5,563.4 1301.3,563.1C1302.0,562.9 1304.3,562.2 1305.0,562.6C1305.8,563.0 1308.0,566.1 1308.8,567.1C1309.5,568.1 1311.8,571.7 1312.5,572.7C1313.2,573.7 1315.1,576.4 1315.8,577.2C1316.4,577.9 1318.1,580.2 1318.8,580.2C1319.4,580.2 1321.8,577.9 1322.5,577.2C1323.3,576.4 1325.6,574.5 1326.3,572.7C1327.0,570.8 1328.9,561.6 1329.5,558.9C1330.2,556.1 1331.9,547.9 1332.5,545.1C1333.1,542.4 1334.9,534.1 1335.5,531.4C1336.2,528.6 1338.0,519.9 1338.8,517.6C1339.5,515.4 1342.2,510.6 1343.0,508.9C1343.9,507.1 1346.7,502.5 1347.5,500.1C1348.4,497.7 1350.5,488.1 1351.3,485.1C1352.0,482.1 1354.4,472.6 1355.0,470.1C1355.7,467.6 1357.0,462.0 1357.5,460.1C1358.0,458.2 1359.4,452.0 1360.0,451.3C1360.7,450.7 1363.0,453.2 1363.8,453.8C1364.5,454.5 1366.8,456.1 1367.5,457.6C1368.3,459.1 1370.6,466.6 1371.3,468.8C1372.1,471.1 1374.4,478.4 1375.1,480.1C1375.8,481.8 1377.7,484.7 1378.3,485.6C1378.9,486.5 1380.6,489.0 1381.3,488.9C1382.0,488.7 1384.3,485.0 1385.1,483.9C1385.8,482.7 1388.1,479.6 1388.8,477.6C1389.6,475.6 1391.8,466.6 1392.6,463.8C1393.3,461.1 1395.6,452.5 1396.3,450.1C1397.1,447.7 1399.3,442.1 1400.1,440.1C1400.8,438.1 1403.1,431.7 1403.8,430.1C1404.5,428.5 1406.4,425.0 1407.1,423.8C1407.7,422.7 1409.8,419.1 1410.6,418.8C1411.3,418.6 1413.7,420.7 1414.6,421.3C1415.4,422.0 1418.0,424.1 1418.8,425.1C1419.6,426.0 1421.8,429.6 1422.6,430.8C1423.3,432.1 1425.6,436.2 1426.3,437.6C1427.0,439.0 1429.0,443.6 1429.6,445.1C1430.2,446.6 1432.0,450.6 1432.6,452.6C1433.1,454.6 1434.6,462.6 1435.1,465.1C1435.6,467.6 1437.1,475.4 1437.6,477.6C1438.1,479.8 1439.5,486.3 1440.1,487.1C1440.7,488.0 1443.1,486.4 1443.8,486.1C1444.6,485.8 1446.9,485.3 1447.6,483.9C1448.3,482.5 1450.0,474.5 1450.6,472.1C1451.2,469.7 1453.1,461.4 1453.8,460.1C1454.6,458.7 1457.2,458.8 1458.1,458.6C1459.0,458.3 1461.7,457.2 1462.6,457.6C1463.5,457.9 1466.2,461.2 1467.1,462.1C1468.0,463.0 1470.6,466.0 1471.4,466.3C1472.2,466.6 1474.4,465.5 1475.1,465.1C1475.9,464.7 1478.1,464.1 1478.9,462.6C1479.6,461.1 1481.9,452.6 1482.6,450.1C1483.4,447.6 1485.6,440.5 1486.4,437.6C1487.1,434.7 1489.4,424.6 1490.1,421.3C1490.9,418.1 1493.1,408.3 1493.9,405.1C1494.6,401.8 1496.9,392.1 1497.6,388.8C1498.4,385.6 1500.7,375.3 1501.4,372.6C1502.1,369.8 1504.0,363.5 1504.6,361.3C1505.2,359.0 1507.1,352.7 1507.6,350.0C1508.2,347.4 1509.6,338.0 1510.1,335.0C1510.6,332.0 1512.2,322.8 1512.6,320.0C1513.1,317.3 1514.2,309.8 1514.6,307.5C1515.0,305.2 1515.8,297.6 1516.4,297.0C1517.0,296.4 1519.8,300.3 1520.6,301.3C1521.5,302.2 1524.0,303.9 1524.6,306.3C1525.2,308.6 1526.2,321.2 1526.6,325.0C1527.1,328.9 1528.4,340.3 1528.9,345.0C1529.4,349.8 1530.9,367.0 1531.4,372.6C1531.9,378.1 1533.4,395.1 1533.9,400.1C1534.4,405.1 1535.9,418.1 1536.4,422.6C1536.9,427.1 1538.4,441.1 1538.9,445.1C1539.4,449.1 1540.9,459.1 1541.4,462.6C1541.9,466.1 1543.3,476.2 1543.9,480.1C1544.5,484.0 1546.8,499.7 1547.6,501.4C1548.5,503.0 1551.3,497.5 1552.1,496.4C1553.0,495.2 1555.6,492.4 1556.4,490.1C1557.2,487.9 1559.4,477.1 1560.1,473.9C1560.9,470.6 1563.3,460.8 1563.9,457.6C1564.5,454.3 1565.9,444.6 1566.4,441.3C1566.9,438.1 1568.4,428.8 1568.9,425.1C1569.4,421.3 1570.7,405.9 1571.4,403.8C1572.1,401.7 1574.8,404.2 1575.7,404.3C1576.5,404.4 1579.5,403.6 1580.2,405.1C1580.8,406.5 1581.8,416.1 1582.2,418.8C1582.5,421.6 1583.5,429.0 1583.9,432.6C1584.3,436.2 1585.9,450.6 1586.4,455.1C1586.9,459.6 1588.4,473.2 1588.9,477.6C1589.4,482.0 1590.9,494.6 1591.4,498.9C1591.9,503.1 1593.4,515.7 1593.9,520.1C1594.4,524.5 1595.8,539.6 1596.4,542.6C1597.0,545.7 1599.4,549.1 1600.2,550.6C1600.9,552.1 1603.3,557.3 1603.9,557.6C1604.5,558.0 1605.9,555.1 1606.4,554.4C1606.9,553.6 1608.5,551.1 1608.9,550.1C1609.4,549.2 1610.5,545.7 1610.9,544.6C1611.3,543.6 1612.5,539.0 1613.2,539.6C1613.8,540.3 1616.3,549.1 1617.2,551.4C1618.0,553.7 1620.9,560.3 1621.4,562.6C1622.0,565.0 1622.4,572.7 1622.7,575.2C1622.9,577.7 1623.6,584.5 1623.9,587.7C1624.2,590.8 1625.3,602.7 1625.7,606.4C1626.1,610.2 1627.3,621.9 1627.7,625.2C1628.1,628.4 1629.1,636.2 1629.4,638.9C1629.8,641.7 1631.0,649.6 1631.4,652.7C1631.9,655.8 1633.3,667.2 1633.9,670.2C1634.6,673.2 1637.1,680.0 1637.8,682.5C1638.6,685.1 1640.5,693.0 1641.1,695.5C1641.7,698.0 1643.5,705.7 1644.1,707.5C1644.7,709.4 1646.5,714.0 1647.1,713.8C1647.7,713.5 1649.3,706.9 1649.8,705.0C1650.4,703.2 1652.1,697.8 1652.8,695.0C1653.6,692.3 1656.2,681.0 1657.1,677.5C1658.0,674.0 1660.7,663.8 1661.6,660.0C1662.6,656.3 1665.6,644.0 1666.6,640.0C1667.6,636.0 1671.0,622.7 1671.6,620.0C1672.2,617.3 1672.2,614.8 1672.7,612.7C1673.2,610.6 1676.1,601.5 1677.0,598.9C1677.8,596.3 1680.6,586.0 1681.5,586.4C1682.3,586.8 1684.8,599.3 1685.7,602.7C1686.6,606.0 1689.5,616.9 1690.2,620.2C1690.9,623.4 1692.2,632.2 1692.7,635.2C1693.2,638.2 1694.8,647.0 1695.2,650.2C1695.7,653.4 1696.6,663.5 1697.1,667.5C1697.6,671.5 1699.7,685.3 1700.4,690.0C1701.0,694.8 1703.0,710.0 1703.6,715.0C1704.3,720.1 1705.9,736.3 1706.6,740.1C1707.4,743.9 1710.3,750.6 1711.1,753.1C1712.0,755.6 1714.4,762.9 1715.4,765.1C1716.4,767.3 1720.0,773.1 1721.1,775.1C1722.3,777.1 1725.6,783.3 1726.6,785.1C1727.6,786.9 1730.3,791.5 1731.1,793.1C1732.0,794.7 1734.6,799.6 1735.4,801.3C1736.2,803.1 1738.4,808.7 1739.1,810.6C1739.9,812.5 1742.2,817.9 1742.9,820.1C1743.6,822.3 1745.5,830.1 1746.1,832.6C1746.8,835.1 1748.5,842.4 1749.1,845.1C1749.8,847.9 1752.1,857.9 1752.9,860.1C1753.7,862.3 1756.3,865.6 1757.2,866.9C1758.0,868.1 1760.7,872.6 1761.7,872.6C1762.6,872.7 1765.7,868.6 1766.7,867.6C1767.7,866.6 1770.8,863.4 1771.7,862.6C1772.6,861.8 1774.9,860.0 1775.7,859.4C1776.5,858.7 1778.9,855.6 1779.7,856.4C1780.5,857.1 1782.8,865.0 1783.7,867.1C1784.5,869.2 1787.1,875.8 1787.9,877.6C1788.7,879.4 1790.9,883.6 1791.7,885.1C1792.4,886.6 1794.7,891.5 1795.4,892.6C1796.2,893.8 1798.5,897.3 1799.2,896.4C1799.8,895.4 1801.2,885.8 1801.7,883.1C1802.2,880.5 1803.7,873.2 1804.2,870.1C1804.7,867.1 1806.2,856.1 1806.7,852.6C1807.2,849.1 1808.7,839.1 1809.2,835.1C1809.6,831.1 1810.8,817.1 1811.2,812.6C1811.6,808.1 1812.6,794.6 1812.9,790.1C1813.3,785.6 1814.3,772.1 1814.7,767.6C1815.1,763.1 1816.3,749.2 1816.7,745.1C1817.1,740.9 1818.3,730.1 1818.7,726.3C1819.1,722.6 1820.1,711.3 1820.4,707.5C1820.8,703.8 1821.8,692.4 1822.2,688.8C1822.6,685.2 1823.8,674.4 1824.2,671.3C1824.6,668.2 1826.0,659.1 1826.2,657.8"/>
</g>
<g stroke-width="10" stroke-linecap="round">
<path stroke="#00009b" d="M435,210 H616"/>
<path stroke="#008000" d="M435,309 H616"/>
<path stroke="#ff0000" d="M435,408.5 H616"/>
</g>
<g font-size="83">
<text x="638" y="238">430/650 nm</text>
<text x="638" y="337.5">930/1400 nm</text>
<text x="638" y="436.5">1130/1700 nm</text>
</g>
<g font-size="88" text-anchor="end">
<text x="286.4" y="1402.0">0</text>
<text x="286.4" y="1078.5">10</text>
<text x="286.4" y="755.0">20</text>
<text x="286.4" y="431.5">30</text>
<text x="286.4" y="108.0">40</text>
</g>
<g font-size="88" text-anchor="middle">
<text x="311.0" y="1467.4">1.0</text>
<text x="689.8" y="1467.4">1.2</text>
<text x="1068.5" y="1467.4">1.4</text>
<text x="1447.2" y="1467.4">1.6</text>
<text x="1826.0" y="1467.4">1.8</text>
<text x="1070" y="1612" font-size="88">Wavelength (μm)</text>
</g>
<text font-size="87.6" transform="translate(105,1306.3) rotate(-90)">Responsivity enhancement</text>
</svg></body></html>
